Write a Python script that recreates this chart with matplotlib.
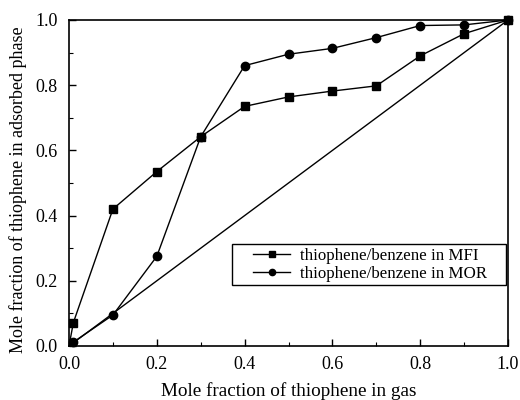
import matplotlib
matplotlib.use('Agg')
import matplotlib.pyplot as plt
from matplotlib.patches import Rectangle
from matplotlib.ticker import MultipleLocator

# gas-phase mole fraction of thiophene
x_gas = [0.0, 0.01, 0.1, 0.2, 0.3, 0.4, 0.5, 0.6, 0.7, 0.8, 0.9, 1.0]
# adsorbed-phase mole fraction
mfi = [0.0, 0.072, 0.42, 0.535, 0.642, 0.735, 0.764, 0.782, 0.798, 0.89, 0.958, 1.0]
mor = [0.0, 0.012, 0.095, 0.275, 0.642, 0.86, 0.895, 0.913, 0.946, 0.983, 0.985, 1.0]
diag = [0.0, 1.0]

plt.rcParams['font.family'] = ['Liberation Serif', 'DejaVu Serif']

fig = plt.figure(figsize=(5.2, 4.0), dpi=100)
ax = fig.add_axes([0.1327, 0.135, 0.8443, 0.815])

# no marker drawn on the origin point
marks = list(range(1, len(x_gas)))
ax.plot(x_gas, mfi, color='black', lw=1.0, marker='s', ms=5.5, markevery=marks,
        label='thiophene/benzene in MFI', clip_on=False)
ax.plot(x_gas, mor, color='black', lw=1.0, marker='o', ms=6, markevery=marks,
        label='thiophene/benzene in MOR', clip_on=False)
ax.plot(diag, diag, color='black', lw=1.0)

ax.set_xlim(0, 1)
ax.set_ylim(0, 1)
ax.xaxis.set_major_locator(MultipleLocator(0.2))
ax.xaxis.set_minor_locator(MultipleLocator(0.1))
ax.yaxis.set_major_locator(MultipleLocator(0.2))
ax.yaxis.set_minor_locator(MultipleLocator(0.1))
ax.tick_params(which='both', direction='in', labelsize=13)
ax.tick_params(axis='x', which='major', pad=7)
ax.tick_params(axis='y', which='major', pad=8)
ax.tick_params(which='major', length=5, width=1)
ax.tick_params(which='minor', length=3, width=0.8)
for s in ax.spines.values():
    s.set_linewidth(1.2)

ax.set_xlabel('Mole fraction of thiophene in gas', fontsize=13.8)
ax.set_ylabel('Mole fraction of thiophene in adsorbed phase', fontsize=13)
ax.xaxis.set_label_coords(0.5, -0.112)
ax.yaxis.set_label_coords(-0.096, 0.479)

# legend box is drawn separately: the original has wide side padding
ax.add_patch(Rectangle((0.371, 0.187), 0.624, 0.126, transform=ax.transAxes,
                       fill=False, edgecolor='black', lw=1.0, zorder=4))
ax.legend(loc='upper left', bbox_to_anchor=(0.419, 0.302), fontsize=12.2,
          frameon=False, borderpad=0, borderaxespad=0,
          handlelength=2.2, markerscale=0.75,
          labelspacing=0.12, handletextpad=0.55)

fig.savefig('out.png', dpi=100)
